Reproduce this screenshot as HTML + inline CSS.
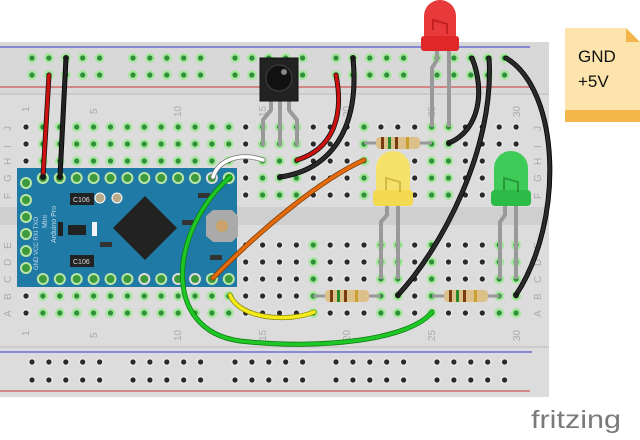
<!DOCTYPE html>
<html><head><meta charset="utf-8"><style>
html,body{margin:0;padding:0;background:#fff;width:640px;height:440px;overflow:hidden}
svg{display:block}
text{font-family:"Liberation Sans",sans-serif}
</style></head><body>
<svg id="s" width="640" height="440" viewBox="0 0 640 440" xmlns="http://www.w3.org/2000/svg">
<!-- breadboard -->
<rect x="0" y="42" width="549" height="355" fill="#dcdcdc"/>
<rect x="0" y="42" width="549" height="52" fill="#d8d8d8"/>
<line x1="0" y1="47" x2="530" y2="47" stroke="#3333cc" stroke-width="1"/>
<line x1="0" y1="87" x2="530" y2="87" stroke="#cc3333" stroke-width="1"/>
<line x1="0" y1="94" x2="549" y2="94" stroke="#bbb" stroke-width="1"/>
<rect x="0" y="207" width="549" height="18" fill="#cfcfcf"/>
<line x1="0" y1="347" x2="549" y2="347" stroke="#bbb" stroke-width="1"/>
<line x1="0" y1="352" x2="532" y2="352" stroke="#3333cc" stroke-width="1"/>
<line x1="0" y1="391" x2="530" y2="391" stroke="#cc3333" stroke-width="1"/>
<g id="holes"></g>
<g fill="#aaa" font-size="10">
<text transform="translate(29,112) rotate(-90)">1</text>
<text transform="translate(97,114) rotate(-90)">5</text>
<text transform="translate(181,117) rotate(-90)">10</text>
<text transform="translate(266,117) rotate(-90)">15</text>
<text transform="translate(350,117) rotate(-90)">20</text>
<text transform="translate(435,117) rotate(-90)">25</text>
<text transform="translate(520,117) rotate(-90)">30</text>
<text transform="translate(29,336) rotate(-90)">1</text>
<text transform="translate(97,338) rotate(-90)">5</text>
<text transform="translate(181,341) rotate(-90)">10</text>
<text transform="translate(266,341) rotate(-90)">15</text>
<text transform="translate(350,341) rotate(-90)">20</text>
<text transform="translate(435,341) rotate(-90)">25</text>
<text transform="translate(520,341) rotate(-90)">30</text>
</g>
<g fill="#aaa" font-size="10" id="letters"></g>

<!-- Arduino -->
<rect x="17" y="168" width="220" height="119" fill="#1f7aa5"/>
<g id="apins"></g>
<rect x="70" y="193" width="24" height="12" fill="#222"/><text x="73" y="202" font-size="7" fill="#ddd">C106</text>
<rect x="70" y="255" width="24" height="12" fill="#222"/><text x="73" y="264" font-size="7" fill="#ddd">C106</text>
<rect x="68" y="225" width="18" height="10" fill="#222"/>
<rect x="58" y="222" width="5" height="14" fill="#222"/>
<rect x="92" y="222" width="5" height="14" fill="#f4f4f4"/>
<rect x="100" y="242" width="12" height="5" fill="#333"/>
<rect x="182" y="220" width="12" height="5" fill="#333"/>
<rect x="198" y="193" width="12" height="5" fill="#333"/>
<rect x="210" y="255" width="12" height="5" fill="#333"/>
<polygon points="145,196 177,228 145,260 113,228" fill="#222"/>
<polygon points="206,216 213,210 232,210 238,216 238,236 232,242 213,242 206,236" fill="#aaa"/>
<circle cx="222" cy="226" r="6" fill="#c9a46a"/>
<circle cx="100" cy="198" r="5" fill="#b8a98a" stroke="#fff" stroke-width="1"/>
<circle cx="117" cy="198" r="5" fill="#b8a98a" stroke="#fff" stroke-width="1"/>
<text transform="translate(56,243) rotate(-90)" font-family="Liberation Mono,monospace" font-size="7" fill="#cde">Arduino Pro</text>
<text transform="translate(47,228) rotate(-90)" font-family="Liberation Mono,monospace" font-size="7" fill="#cde">Mini</text>
<text transform="translate(38,270) rotate(-90)" font-family="Liberation Mono,monospace" font-size="6" fill="#cde">GND VCC RXI TXO</text>

<!-- IR sensor -->
<g stroke="#999" stroke-width="4" fill="none">
<path d="M271,100 L271,110 L263,120 L263,146"/>
<path d="M280,100 L280,146"/>
<path d="M289,100 L289,110 L297,120 L297,146"/>
</g>
<rect x="260" y="58" width="38" height="43" fill="#222" stroke="#111"/>
<circle cx="279" cy="78" r="13" fill="#111" stroke="#444"/>
<circle cx="284" cy="72" r="3" fill="#888"/>

<!-- Resistors -->
<g id="res"></g>

<!-- LED legs -->
<g stroke="#999" stroke-width="4" fill="none">
<path d="M437,50 L437,60 L432,68 L432,127"/><path d="M449,50 L449,127"/>
<path d="M387,205 L387,215 L381,222 L381,279"/><path d="M398,205 L398,279"/>
<path d="M505,205 L505,215 L500,222 L500,279"/><path d="M516,205 L516,279"/>
</g>
<!-- red LED -->
<path d="M424,45 L424,16 A16,16 0 0 1 456,16 L456,45 Z" fill="#e83a3a"/>
<rect x="421" y="36" width="38" height="15" rx="3" fill="#e02828"/>
<path d="M433,30 L433,20 L447,24 L447,34" fill="none" stroke="#a11" stroke-width="2" opacity=".6"/>
<!-- yellow LED -->
<path d="M376,200 L376,168 A17,17 0 0 1 410,168 L410,200 Z" fill="#f6e26a"/>
<rect x="373" y="190" width="40" height="16" rx="4" fill="#f2d94f"/>
<path d="M386,190 L386,178 L400,182 L400,192" fill="none" stroke="#b9a030" stroke-width="2" opacity=".6"/>
<!-- green LED -->
<path d="M494,200 L494,168 A17,17 0 0 1 528,168 L528,200 Z" fill="#3ecb57"/>
<rect x="491" y="190" width="40" height="16" rx="4" fill="#2dbb47"/>
<path d="M504,190 L504,178 L518,182 L518,192" fill="none" stroke="#1a7a2a" stroke-width="2" opacity=".6"/>

<!-- wires -->
<g fill="none" stroke-linecap="round">
<path d="M49,75 L43,177" stroke="#111" stroke-width="5"/><path d="M49,75 L43,177" stroke="#cc1111" stroke-width="3.5"/>
<path d="M66,58 L60,177" stroke="#000" stroke-width="5"/><path d="M66,58 L60,177" stroke="#222" stroke-width="3.5"/>
<path d="M336,75 C345,120 330,150 297,160" stroke="#111" stroke-width="5"/><path d="M336,75 C345,120 330,150 297,160" stroke="#cc1111" stroke-width="3.5"/>
<path d="M353,58 C360,130 330,170 280,177" stroke="#000" stroke-width="5"/><path d="M353,58 C360,130 330,170 280,177" stroke="#2a2a2a" stroke-width="3.5"/>
<path d="M213,177 C218,160 240,152 263,160" stroke="#777" stroke-width="5"/><path d="M213,177 C218,160 240,152 263,160" stroke="#fff" stroke-width="3.5"/>
<path d="M472,58 C485,90 480,130 449,143" stroke="#000" stroke-width="5"/><path d="M472,58 C485,90 480,130 449,143" stroke="#2a2a2a" stroke-width="3.5"/>
<path d="M489,58 C495,150 440,250 398,295" stroke="#000" stroke-width="5"/><path d="M489,58 C495,150 440,250 398,295" stroke="#2a2a2a" stroke-width="3.5"/>
<path d="M506,58 C560,90 565,220 516,295" stroke="#000" stroke-width="5"/><path d="M506,58 C560,90 565,220 516,295" stroke="#2a2a2a" stroke-width="3.5"/>
<path d="M213,278 C260,230 320,180 364,160" stroke="#7a3a00" stroke-width="5"/><path d="M213,278 C260,230 320,180 364,160" stroke="#e36a0e" stroke-width="3.5"/>
<path d="M230,295 C240,320 290,322 314,312" stroke="#888800" stroke-width="5"/><path d="M230,295 C240,320 290,322 314,312" stroke="#f4ea1c" stroke-width="3.5"/>
<path d="M230,177 C170,230 160,330 240,341 C320,350 410,340 432,312" stroke="#0a7a0a" stroke-width="5"/><path d="M230,177 C170,230 160,330 240,341 C320,350 410,340 432,312" stroke="#1ec626" stroke-width="3.5"/>
</g>
<g fill="#1a1a1a"><circle cx="43" cy="177" r="3"/><circle cx="60" cy="177" r="3"/><circle cx="66" cy="58" r="3"/><circle cx="353" cy="58" r="3"/><circle cx="280" cy="177" r="3"/><circle cx="449" cy="143" r="3"/><circle cx="398" cy="295" r="3"/><circle cx="516" cy="295" r="3"/></g>

<!-- note -->
<path d="M565,28 L626,28 L640,42 L640,122 L565,122 Z" fill="#fde4ad"/>
<path d="M626,28 L640,42 L626,42 Z" fill="#f3b64a"/>
<rect x="565" y="110" width="75" height="12" fill="#f3b64a"/>
<text x="578" y="62" font-size="17" fill="#111">GND</text>
<text x="578" y="87" font-size="17" fill="#111">+5V</text>

<text x="531" y="428" font-size="25" fill="#7a7a7a" font-family="DejaVu Sans,sans-serif" textLength="90" lengthAdjust="spacingAndGlyphs">fritzing</text>
</svg>
<script>
var NS="http://www.w3.org/2000/svg",H=document.getElementById('holes');
function c(x,y,g){var r=document.createElementNS(NS,'circle');r.setAttribute('cx',x);r.setAttribute('cy',y);r.setAttribute('r',g?5:4.2);r.setAttribute('fill',g?'#a8e6a0':'#e6e6e6');H.appendChild(r);
var d=document.createElementNS(NS,'circle');d.setAttribute('cx',x);d.setAttribute('cy',y);d.setAttribute('r',2.6);d.setAttribute('fill',g?'#2f8f3a':'#2a2a2a');H.appendChild(d);}
function cx(n){return 26+16.9*(n-1);}
var topG=[2,3,4,5,6,7,8,9,10,11,12,13,15,16,17,21,25,26];
var botG=[2,3,4,5,6,7,8,9,10,11,12,13,18,22,23,25,29,30];
var tr=[127,144,161,178,195],br=[245,262,279,296,313];
for(var n=1;n<=30;n++){tr.forEach(function(y){c(cx(n),y,topG.indexOf(n)>=0)});br.forEach(function(y){c(cx(n),y,botG.indexOf(n)>=0)});}
var starts=[32,133,235,336,437];
starts.forEach(function(s){for(var i=0;i<5;i++){c(s+16.9*i,58,true);c(s+16.9*i,75,true);}});
starts.forEach(function(s){for(var i=0;i<5;i++){c(s+16.9*i,362,false);c(s+16.9*i,380,false);}});
var L=document.getElementById('letters');
['J','I','H','G','F'].forEach(function(t,i){[11,541].forEach(function(x){var e=document.createElementNS(NS,'text');e.setAttribute('transform','translate('+x+','+(tr[i]+4)+') rotate(-90)');e.textContent=t;L.appendChild(e);});});
['E','D','C','B','A'].forEach(function(t,i){[11,541].forEach(function(x){var e=document.createElementNS(NS,'text');e.setAttribute('transform','translate('+x+','+(br[i]+4)+') rotate(-90)');e.textContent=t;L.appendChild(e);});});
var P=document.getElementById('apins');
function pin(x,y,w){var r=document.createElementNS(NS,'circle');r.setAttribute('cx',x);r.setAttribute('cy',y);r.setAttribute('r',6);r.setAttribute('fill',w?'#ddd':'#b9e6a8');P.appendChild(r);var d=document.createElementNS(NS,'circle');d.setAttribute('cx',x);d.setAttribute('cy',y);d.setAttribute('r',4);d.setAttribute('fill','#3c9a3c');P.appendChild(d);}
for(var n=2;n<=13;n++){pin(cx(n),178,n==12);pin(cx(n),279,[8,10,11].indexOf(n)>=0);}
[185,202,219,236,253,270].forEach(function(y,i){pin(26,y-2,false);});
var R=document.getElementById('res');
[[364,432,143],[313,381,296],[432,500,296]].forEach(function(a){R.innerHTML+='<line x1="'+a[0]+'" y1="'+a[2]+'" x2="'+a[1]+'" y2="'+a[2]+'" stroke="#999" stroke-width="3"/>'+
'<rect x="'+(a[0]+12)+'" y="'+(a[2]-6)+'" width="'+(a[1]-a[0]-24)+'" height="12" rx="4" fill="#dcc08a"/>'+
'<rect x="'+(a[0]+17)+'" y="'+(a[2]-6)+'" width="3" height="12" fill="#7a3a10"/><rect x="'+(a[0]+24)+'" y="'+(a[2]-6)+'" width="3" height="12" fill="#2a8a2a"/><rect x="'+(a[0]+31)+'" y="'+(a[2]-6)+'" width="3" height="12" fill="#7a3a10"/><rect x="'+(a[0]+42)+'" y="'+(a[2]-6)+'" width="3" height="12" fill="#c9a030"/>';});
</script>
</body></html>
